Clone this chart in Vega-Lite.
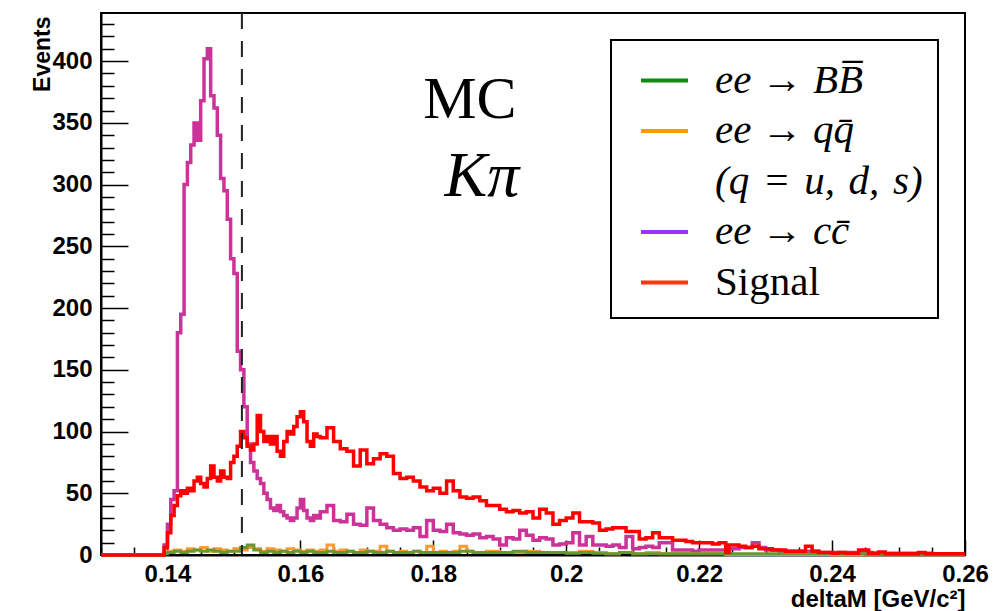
{
  "$schema": "https://vega.github.io/schema/vega-lite/v6.json",
  "width": 864,
  "height": 542,
  "autosize": "none",
  "padding": {"left": 101, "top": 13, "right": 28, "bottom": 56},
  "background": "white",
  "config": {"view": {"stroke": "black", "strokeWidth": 2}},
  "datasets": {
    "hist": [
      {"p":"cc","x":0.13,"v":0},{"p":"cc","x":0.1395,"v":8},{"p":"cc","x":0.14,"v":25},{"p":"cc","x":0.1405,"v":45},{"p":"cc","x":0.141,"v":52},{"p":"cc","x":0.1415,"v":180},{"p":"cc","x":0.142,"v":195},{"p":"cc","x":0.1425,"v":300},{"p":"cc","x":0.143,"v":318},{"p":"cc","x":0.1435,"v":332},{"p":"cc","x":0.144,"v":350},{"p":"cc","x":0.1445,"v":336},{"p":"cc","x":0.145,"v":368},{"p":"cc","x":0.1455,"v":402},{"p":"cc","x":0.146,"v":410},{"p":"cc","x":0.1465,"v":372},{"p":"cc","x":0.147,"v":362},{"p":"cc","x":0.1475,"v":340},{"p":"cc","x":0.148,"v":305},{"p":"cc","x":0.1485,"v":295},{"p":"cc","x":0.149,"v":272},{"p":"cc","x":0.1495,"v":240},{"p":"cc","x":0.15,"v":228},{"p":"cc","x":0.1505,"v":165},{"p":"cc","x":0.151,"v":150},{"p":"cc","x":0.1515,"v":120},{"p":"cc","x":0.152,"v":90},{"p":"cc","x":0.1525,"v":75},{"p":"cc","x":0.153,"v":68},{"p":"cc","x":0.1535,"v":62},{"p":"cc","x":0.154,"v":58},{"p":"cc","x":0.1545,"v":50},{"p":"cc","x":0.155,"v":45},{"p":"cc","x":0.1555,"v":38},{"p":"cc","x":0.156,"v":36},{"p":"cc","x":0.1565,"v":40},{"p":"cc","x":0.157,"v":35},{"p":"cc","x":0.1575,"v":32},{"p":"cc","x":0.158,"v":30},{"p":"cc","x":0.1585,"v":28},{"p":"cc","x":0.159,"v":30},{"p":"cc","x":0.1595,"v":38},{"p":"cc","x":0.16,"v":45},{"p":"cc","x":0.1605,"v":36},{"p":"cc","x":0.161,"v":30},{"p":"cc","x":0.1615,"v":28},{"p":"cc","x":0.162,"v":32},{"p":"cc","x":0.1625,"v":30},{"p":"cc","x":0.163,"v":35},{"p":"cc","x":0.164,"v":40},{"p":"cc","x":0.165,"v":28},{"p":"cc","x":0.166,"v":27},{"p":"cc","x":0.167,"v":33},{"p":"cc","x":0.168,"v":25},{"p":"cc","x":0.169,"v":24},{"p":"cc","x":0.17,"v":38},{"p":"cc","x":0.171,"v":28},{"p":"cc","x":0.172,"v":25},{"p":"cc","x":0.173,"v":22},{"p":"cc","x":0.174,"v":20},{"p":"cc","x":0.175,"v":21},{"p":"cc","x":0.176,"v":20},{"p":"cc","x":0.177,"v":22},{"p":"cc","x":0.178,"v":15},{"p":"cc","x":0.179,"v":28},{"p":"cc","x":0.18,"v":20},{"p":"cc","x":0.181,"v":19},{"p":"cc","x":0.182,"v":25},{"p":"cc","x":0.183,"v":18},{"p":"cc","x":0.184,"v":17},{"p":"cc","x":0.185,"v":16},{"p":"cc","x":0.186,"v":17},{"p":"cc","x":0.187,"v":14},{"p":"cc","x":0.188,"v":15},{"p":"cc","x":0.189,"v":13},{"p":"cc","x":0.19,"v":8},{"p":"cc","x":0.191,"v":14},{"p":"cc","x":0.192,"v":13},{"p":"cc","x":0.193,"v":20},{"p":"cc","x":0.194,"v":16},{"p":"cc","x":0.195,"v":12},{"p":"cc","x":0.196,"v":14},{"p":"cc","x":0.197,"v":13},{"p":"cc","x":0.198,"v":8},{"p":"cc","x":0.199,"v":9},{"p":"cc","x":0.2,"v":10},{"p":"cc","x":0.201,"v":18},{"p":"cc","x":0.202,"v":8},{"p":"cc","x":0.203,"v":15},{"p":"cc","x":0.204,"v":8},{"p":"cc","x":0.205,"v":8},{"p":"cc","x":0.206,"v":7},{"p":"cc","x":0.207,"v":8},{"p":"cc","x":0.208,"v":6},{"p":"cc","x":0.209,"v":15},{"p":"cc","x":0.21,"v":5},{"p":"cc","x":0.211,"v":6},{"p":"cc","x":0.212,"v":7},{"p":"cc","x":0.213,"v":6},{"p":"cc","x":0.214,"v":10},{"p":"cc","x":0.215,"v":10},{"p":"cc","x":0.216,"v":4},{"p":"cc","x":0.217,"v":4},{"p":"cc","x":0.218,"v":4},{"p":"cc","x":0.219,"v":3},{"p":"cc","x":0.22,"v":4},{"p":"cc","x":0.222,"v":4},{"p":"cc","x":0.224,"v":5},{"p":"cc","x":0.226,"v":6},{"p":"cc","x":0.228,"v":10},{"p":"cc","x":0.229,"v":6},{"p":"cc","x":0.23,"v":4},{"p":"cc","x":0.232,"v":3},{"p":"cc","x":0.235,"v":3},{"p":"cc","x":0.238,"v":2},{"p":"cc","x":0.242,"v":2},{"p":"cc","x":0.246,"v":1.5},{"p":"cc","x":0.25,"v":1.5},{"p":"cc","x":0.255,"v":1},{"p":"cc","x":0.26,"v":1},

      {"p":"qq","x":0.13,"v":0},{"p":"qq","x":0.1395,"v":2},{"p":"qq","x":0.14,"v":3},{"p":"qq","x":0.141,"v":4},{"p":"qq","x":0.142,"v":3},{"p":"qq","x":0.143,"v":5},{"p":"qq","x":0.144,"v":4},{"p":"qq","x":0.145,"v":6},{"p":"qq","x":0.146,"v":3},{"p":"qq","x":0.147,"v":5},{"p":"qq","x":0.148,"v":4},{"p":"qq","x":0.149,"v":3},{"p":"qq","x":0.15,"v":5},{"p":"qq","x":0.151,"v":4},{"p":"qq","x":0.152,"v":6},{"p":"qq","x":0.153,"v":5},{"p":"qq","x":0.154,"v":3},{"p":"qq","x":0.155,"v":5},{"p":"qq","x":0.156,"v":4},{"p":"qq","x":0.157,"v":3},{"p":"qq","x":0.158,"v":5},{"p":"qq","x":0.159,"v":4},{"p":"qq","x":0.16,"v":3},{"p":"qq","x":0.161,"v":4},{"p":"qq","x":0.162,"v":3},{"p":"qq","x":0.163,"v":4},{"p":"qq","x":0.164,"v":8},{"p":"qq","x":0.165,"v":3},{"p":"qq","x":0.166,"v":4},{"p":"qq","x":0.167,"v":3},{"p":"qq","x":0.168,"v":2},{"p":"qq","x":0.169,"v":4},{"p":"qq","x":0.17,"v":3},{"p":"qq","x":0.171,"v":3},{"p":"qq","x":0.172,"v":7},{"p":"qq","x":0.173,"v":3},{"p":"qq","x":0.174,"v":2},{"p":"qq","x":0.175,"v":3},{"p":"qq","x":0.176,"v":2},{"p":"qq","x":0.177,"v":3},{"p":"qq","x":0.178,"v":2},{"p":"qq","x":0.179,"v":7},{"p":"qq","x":0.18,"v":2},{"p":"qq","x":0.181,"v":3},{"p":"qq","x":0.182,"v":2},{"p":"qq","x":0.183,"v":3},{"p":"qq","x":0.184,"v":7},{"p":"qq","x":0.185,"v":3},{"p":"qq","x":0.186,"v":2},{"p":"qq","x":0.188,"v":3},{"p":"qq","x":0.19,"v":2},{"p":"qq","x":0.192,"v":2},{"p":"qq","x":0.194,"v":3},{"p":"qq","x":0.196,"v":2},{"p":"qq","x":0.198,"v":2},{"p":"qq","x":0.2,"v":2},{"p":"qq","x":0.202,"v":3},{"p":"qq","x":0.204,"v":2},{"p":"qq","x":0.206,"v":1},{"p":"qq","x":0.208,"v":2},{"p":"qq","x":0.21,"v":1},{"p":"qq","x":0.212,"v":2},{"p":"qq","x":0.214,"v":1},{"p":"qq","x":0.218,"v":1},{"p":"qq","x":0.222,"v":1},{"p":"qq","x":0.224,"v":0.5},{"p":"qq","x":0.232,"v":0.5},{"p":"qq","x":0.24,"v":0.3},{"p":"qq","x":0.26,"v":0.3},

      {"p":"BB","x":0.13,"v":0},{"p":"BB","x":0.1395,"v":1},{"p":"BB","x":0.14,"v":2},{"p":"BB","x":0.141,"v":3},{"p":"BB","x":0.142,"v":2},{"p":"BB","x":0.143,"v":3},{"p":"BB","x":0.144,"v":4},{"p":"BB","x":0.145,"v":3},{"p":"BB","x":0.146,"v":4},{"p":"BB","x":0.147,"v":3},{"p":"BB","x":0.148,"v":2},{"p":"BB","x":0.149,"v":3},{"p":"BB","x":0.15,"v":3},{"p":"BB","x":0.151,"v":6},{"p":"BB","x":0.152,"v":8},{"p":"BB","x":0.153,"v":4},{"p":"BB","x":0.154,"v":2},{"p":"BB","x":0.155,"v":3},{"p":"BB","x":0.156,"v":2},{"p":"BB","x":0.157,"v":3},{"p":"BB","x":0.158,"v":2},{"p":"BB","x":0.159,"v":3},{"p":"BB","x":0.16,"v":2},{"p":"BB","x":0.161,"v":3},{"p":"BB","x":0.162,"v":2},{"p":"BB","x":0.164,"v":3},{"p":"BB","x":0.165,"v":2},{"p":"BB","x":0.167,"v":3},{"p":"BB","x":0.168,"v":2},{"p":"BB","x":0.17,"v":3},{"p":"BB","x":0.171,"v":2},{"p":"BB","x":0.173,"v":3},{"p":"BB","x":0.174,"v":2},{"p":"BB","x":0.177,"v":3},{"p":"BB","x":0.178,"v":2},{"p":"BB","x":0.184,"v":3},{"p":"BB","x":0.186,"v":2},{"p":"BB","x":0.192,"v":3},{"p":"BB","x":0.194,"v":2},{"p":"BB","x":0.2,"v":1.5},{"p":"BB","x":0.202,"v":2},{"p":"BB","x":0.204,"v":1.5},{"p":"BB","x":0.206,"v":1},{"p":"BB","x":0.208,"v":2},{"p":"BB","x":0.21,"v":1},{"p":"BB","x":0.245,"v":0.5},{"p":"BB","x":0.26,"v":0.5},

      {"p":"Signal","x":0.13,"v":0},{"p":"Signal","x":0.139,"v":0},{"p":"Signal","x":0.1395,"v":6},{"p":"Signal","x":0.14,"v":18},{"p":"Signal","x":0.1405,"v":32},{"p":"Signal","x":0.141,"v":40},{"p":"Signal","x":0.1415,"v":48},{"p":"Signal","x":0.142,"v":52},{"p":"Signal","x":0.1425,"v":50},{"p":"Signal","x":0.143,"v":54},{"p":"Signal","x":0.1435,"v":52},{"p":"Signal","x":0.144,"v":60},{"p":"Signal","x":0.1445,"v":63},{"p":"Signal","x":0.145,"v":58},{"p":"Signal","x":0.1455,"v":55},{"p":"Signal","x":0.146,"v":62},{"p":"Signal","x":0.1465,"v":72},{"p":"Signal","x":0.147,"v":63},{"p":"Signal","x":0.1475,"v":60},{"p":"Signal","x":0.148,"v":68},{"p":"Signal","x":0.1485,"v":63},{"p":"Signal","x":0.149,"v":62},{"p":"Signal","x":0.1495,"v":75},{"p":"Signal","x":0.15,"v":80},{"p":"Signal","x":0.1505,"v":88},{"p":"Signal","x":0.151,"v":100},{"p":"Signal","x":0.1515,"v":95},{"p":"Signal","x":0.152,"v":88},{"p":"Signal","x":0.1525,"v":85},{"p":"Signal","x":0.153,"v":90},{"p":"Signal","x":0.1535,"v":113},{"p":"Signal","x":0.154,"v":100},{"p":"Signal","x":0.1545,"v":92},{"p":"Signal","x":0.155,"v":96},{"p":"Signal","x":0.1555,"v":90},{"p":"Signal","x":0.156,"v":96},{"p":"Signal","x":0.1565,"v":84},{"p":"Signal","x":0.157,"v":80},{"p":"Signal","x":0.1575,"v":92},{"p":"Signal","x":0.158,"v":100},{"p":"Signal","x":0.1585,"v":98},{"p":"Signal","x":0.159,"v":104},{"p":"Signal","x":0.1595,"v":112},{"p":"Signal","x":0.16,"v":116},{"p":"Signal","x":0.1605,"v":108},{"p":"Signal","x":0.161,"v":92},{"p":"Signal","x":0.1615,"v":88},{"p":"Signal","x":0.162,"v":98},{"p":"Signal","x":0.1625,"v":96},{"p":"Signal","x":0.163,"v":95},{"p":"Signal","x":0.164,"v":103},{"p":"Signal","x":0.165,"v":92},{"p":"Signal","x":0.166,"v":86},{"p":"Signal","x":0.167,"v":84},{"p":"Signal","x":0.168,"v":72},{"p":"Signal","x":0.169,"v":85},{"p":"Signal","x":0.17,"v":74},{"p":"Signal","x":0.171,"v":78},{"p":"Signal","x":0.172,"v":82},{"p":"Signal","x":0.173,"v":80},{"p":"Signal","x":0.174,"v":66},{"p":"Signal","x":0.175,"v":62},{"p":"Signal","x":0.176,"v":63},{"p":"Signal","x":0.177,"v":60},{"p":"Signal","x":0.178,"v":55},{"p":"Signal","x":0.179,"v":52},{"p":"Signal","x":0.18,"v":54},{"p":"Signal","x":0.181,"v":50},{"p":"Signal","x":0.182,"v":60},{"p":"Signal","x":0.183,"v":52},{"p":"Signal","x":0.184,"v":47},{"p":"Signal","x":0.185,"v":46},{"p":"Signal","x":0.186,"v":47},{"p":"Signal","x":0.187,"v":44},{"p":"Signal","x":0.188,"v":40},{"p":"Signal","x":0.189,"v":40},{"p":"Signal","x":0.19,"v":37},{"p":"Signal","x":0.191,"v":35},{"p":"Signal","x":0.192,"v":36},{"p":"Signal","x":0.193,"v":34},{"p":"Signal","x":0.194,"v":35},{"p":"Signal","x":0.195,"v":30},{"p":"Signal","x":0.196,"v":37},{"p":"Signal","x":0.197,"v":34},{"p":"Signal","x":0.198,"v":25},{"p":"Signal","x":0.199,"v":28},{"p":"Signal","x":0.2,"v":30},{"p":"Signal","x":0.201,"v":34},{"p":"Signal","x":0.202,"v":27},{"p":"Signal","x":0.203,"v":27},{"p":"Signal","x":0.204,"v":26},{"p":"Signal","x":0.205,"v":20},{"p":"Signal","x":0.206,"v":21},{"p":"Signal","x":0.207,"v":22},{"p":"Signal","x":0.208,"v":22},{"p":"Signal","x":0.209,"v":19},{"p":"Signal","x":0.21,"v":19},{"p":"Signal","x":0.211,"v":13},{"p":"Signal","x":0.212,"v":14},{"p":"Signal","x":0.213,"v":18},{"p":"Signal","x":0.214,"v":14},{"p":"Signal","x":0.215,"v":14},{"p":"Signal","x":0.216,"v":12},{"p":"Signal","x":0.217,"v":12},{"p":"Signal","x":0.218,"v":11},{"p":"Signal","x":0.219,"v":10},{"p":"Signal","x":0.22,"v":10},{"p":"Signal","x":0.221,"v":10},{"p":"Signal","x":0.222,"v":9},{"p":"Signal","x":0.223,"v":10},{"p":"Signal","x":0.224,"v":2},{"p":"Signal","x":0.2245,"v":8},{"p":"Signal","x":0.225,"v":8},{"p":"Signal","x":0.226,"v":7},{"p":"Signal","x":0.227,"v":6},{"p":"Signal","x":0.228,"v":7},{"p":"Signal","x":0.229,"v":5},{"p":"Signal","x":0.23,"v":5},{"p":"Signal","x":0.231,"v":4},{"p":"Signal","x":0.232,"v":4},{"p":"Signal","x":0.233,"v":3},{"p":"Signal","x":0.236,"v":7},{"p":"Signal","x":0.237,"v":3},{"p":"Signal","x":0.238,"v":2},{"p":"Signal","x":0.24,"v":1.5},{"p":"Signal","x":0.241,"v":2},{"p":"Signal","x":0.242,"v":1.5},{"p":"Signal","x":0.244,"v":4},{"p":"Signal","x":0.2455,"v":1.5},{"p":"Signal","x":0.247,"v":2.5},{"p":"Signal","x":0.248,"v":1},{"p":"Signal","x":0.251,"v":1},{"p":"Signal","x":0.253,"v":2},{"p":"Signal","x":0.254,"v":1},{"p":"Signal","x":0.26,"v":1}
    ],
    "legendkeys": [
      {"k": "BB"}, {"k": "qq"}, {"k": "qqnote"}, {"k": "cc"}, {"k": "Signal"}
    ]
  },
  "data": {"name": "hist"},
  "layer": [
    {
      "transform": [{"filter": "datum.p === 'cc'"}],
      "mark": {"type": "line", "interpolate": "step-after", "strokeWidth": 3.5},
      "encoding": {
        "x": {"field": "x", "type": "quantitative", "scale": {"domain": [0.13, 0.26], "nice": false, "zero": false},
          "axis": {"values": [0.13,0.135,0.14,0.145,0.15,0.155,0.16,0.165,0.17,0.175,0.18,0.185,0.19,0.195,0.2,0.205,0.21,0.215,0.22,0.225,0.23,0.235,0.24,0.245,0.25,0.255,0.26],
            "tickCount": 1000,
            "format": "~g",
            "labelExpr": "abs(datum.value*50 - round(datum.value*50)) < 0.001 ? datum.label : ''",
            "tickSize": {"condition": {"test": "abs(datum.value*50 - round(datum.value*50)) < 0.001", "value": -15}, "value": -8},
            "tickColor": "black", "tickWidth": 1.5,
            "domainColor": "black", "domainWidth": 2,
            "labelFont": "Liberation Sans", "labelFontWeight": "bold", "labelFontSize": 24, "labelColor": "black",
            "labelPadding": 22, "labelBaseline": "top", "labelOverlap": false, "labelFlush": false, "labelBound": false,
            "grid": false,
            "title": "deltaM [GeV/c²]", "titleFont": "Liberation Sans", "titleFontWeight": "bold", "titleFontSize": 24, "titleColor": "black",
            "titleAnchor": "end", "titleAlign": "right", "titleX": 864, "titleY": 51, "titleBaseline": "alphabetic"
          }},
        "y": {"field": "v", "type": "quantitative", "scale": {"domain": [0, 439], "nice": false},
          "axis": {"values": [0,10,20,30,40,50,60,70,80,90,100,110,120,130,140,150,160,170,180,190,200,210,220,230,240,250,260,270,280,290,300,310,320,330,340,350,360,370,380,390,400,410,420,430],
            "tickCount": 1000,
            "format": "d",
            "labelExpr": "datum.value % 50 === 0 ? datum.label : ''",
            "tickSize": {"condition": {"test": "datum.value % 50 === 0", "value": -27}, "value": -13},
            "tickColor": "black", "tickWidth": 1.5,
            "domainColor": "black", "domainWidth": 2,
            "labelFont": "Liberation Sans", "labelFontWeight": "bold", "labelFontSize": 24, "labelColor": "black",
            "labelPadding": 36, "labelOverlap": false, "labelFlush": false, "labelBound": false,
            "grid": false,
            "title": "Events", "titleFont": "Liberation Sans", "titleFontWeight": "bold", "titleFontSize": 23, "titleColor": "black",
            "titleAngle": 270, "titleAlign": "right", "titleBaseline": "alphabetic", "titleX": -52, "titleY": 3
          }},
        "stroke": {"field": "p", "type": "nominal", "legend": null,
          "scale": {"domain": ["BB", "qq", "cc", "Signal"], "range": ["#669933", "#ff9933", "#cc3399", "#ff0000"]}}
      }
    },
    {
      "transform": [{"filter": "datum.p === 'qq'"}],
      "mark": {"type": "line", "interpolate": "step-after", "strokeWidth": 3},
      "encoding": {
        "x": {"field": "x", "type": "quantitative"},
        "y": {"field": "v", "type": "quantitative"},
        "stroke": {"field": "p", "type": "nominal", "legend": null}
      }
    },
    {
      "transform": [{"filter": "datum.p === 'BB'"}],
      "mark": {"type": "line", "interpolate": "step-after", "strokeWidth": 3},
      "encoding": {
        "x": {"field": "x", "type": "quantitative"},
        "y": {"field": "v", "type": "quantitative"},
        "stroke": {"field": "p", "type": "nominal", "legend": null}
      }
    },
    {
      "transform": [{"filter": "datum.p === 'Signal'"}],
      "mark": {"type": "line", "interpolate": "step-after", "strokeWidth": 3.5},
      "encoding": {
        "x": {"field": "x", "type": "quantitative"},
        "y": {"field": "v", "type": "quantitative"},
        "stroke": {"field": "p", "type": "nominal", "legend": null}
      }
    },
    {
      "data": {"name": "legendkeys"},
      "transform": [{"filter": "false"}],
      "mark": {"type": "line"},
      "encoding": {
        "color": {"field": "k", "type": "nominal",
          "scale": {"domain": ["BB", "qq", "qqnote", "cc", "Signal"], "range": ["#118811", "#ff9900", "rgba(0,0,0,0)", "#9933ff", "#ff3311"]},
          "legend": {"title": null, "orient": "top-right", "offset": 27,
            "symbolType": "stroke", "symbolSize": 2209, "symbolStrokeWidth": 4, "symbolOffset": 13,
            "labelFont": "Liberation Serif", "labelFontSize": 41, "labelColor": "black", "labelOffset": 25, "labelLimit": 400,
            "rowPadding": 4.5, "padding": 15, "fillColor": "white", "strokeColor": "black",
            "labelExpr": "datum.value === 'BB' ? 'ee → BB̅' : datum.value === 'qq' ? 'ee → qq̄' : datum.value === 'qqnote' ? '(q\u2004=\u2004u,\u2004d,\u2004s)' : datum.value === 'cc' ? 'ee → cc̄' : 'Signal'",
            "encode": {
              "labels": {"update": {"fontStyle": {"signal": "datum.value === 'Signal' ? 'normal' : 'italic'"}}},
              "legend": {"update": {"strokeWidth": {"value": 2}}}
            }
          }}
      }
    },
    {
      "data": {"values": [{}]},
      "mark": {"type": "rule", "color": "#222222", "strokeWidth": 2, "strokeDash": [16, 12]},
      "encoding": {"x": {"datum": 0.1512}}
    },
    {
      "data": {"values": [{}]},
      "mark": {"type": "text", "text": "MC", "font": "Liberation Serif", "fontSize": 60, "align": "center", "baseline": "alphabetic", "color": "black"},
      "encoding": {"x": {"datum": 0.1855}, "y": {"datum": 354}}
    },
    {
      "data": {"values": [{}]},
      "mark": {"type": "text", "text": "Kπ", "font": "Liberation Serif", "fontStyle": "italic", "fontSize": 64, "align": "center", "baseline": "alphabetic", "color": "black"},
      "encoding": {"x": {"datum": 0.1873}, "y": {"datum": 291}}
    }
  ]
}
